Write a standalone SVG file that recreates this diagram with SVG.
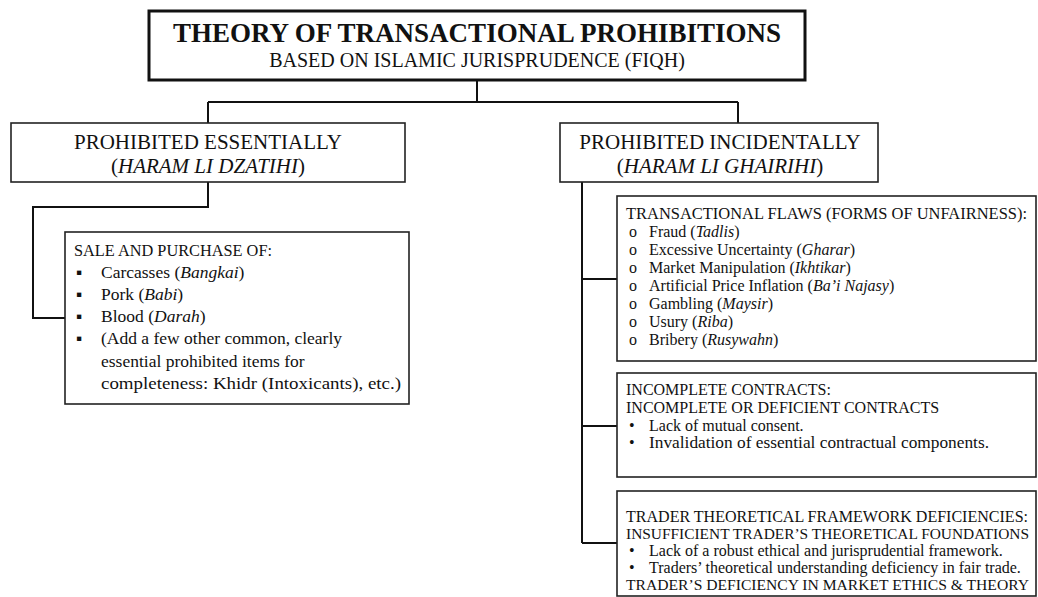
<svg xmlns="http://www.w3.org/2000/svg" width="1038" height="597" viewBox="0 0 1038 597" font-family="'Liberation Serif','Times New Roman',serif">
<style>
text{font-family:"Liberation Serif","Times New Roman",serif;fill:#111}
.box{fill:#fff;stroke:#222;stroke-width:1.6}
.conn{fill:none;stroke:#111;stroke-width:2}
.title{font-size:27px;font-weight:bold}
.sub{font-size:20px}
.h{font-size:21px}
.t{font-size:17.5px}
.s{font-size:16px}
.s2{font-size:15.4px}
.i{font-style:italic}
</style>
<g id="connectors">
<path class="conn" d="M477,80 V102 M208,102 H738 M208,102 V123 M738,102 V123"/>
<path class="conn" d="M208,182 V207 H33 V318 H65"/>
<path class="conn" d="M582,182 V543 M582,279 H617 M582,426 H617 M582,543 H617"/>
</g>
<g id="title">
<rect x="149" y="11" width="656" height="69" fill="#fff" stroke="#111" stroke-width="3"/>
<text class="title" x="477" y="42" text-anchor="middle">THEORY OF TRANSACTIONAL PROHIBITIONS</text>
<text class="sub" x="477" y="67" text-anchor="middle">BASED ON ISLAMIC JURISPRUDENCE (FIQH)</text>
</g>
<g id="essential">
<rect class="box" x="11" y="123" width="394" height="59"/>
<text class="h" x="208" y="149" text-anchor="middle">PROHIBITED ESSENTIALLY</text>
<text class="h" x="208" y="173" text-anchor="middle">(<tspan class="i">HARAM LI DZATIHI</tspan>)</text>
</g>
<g id="incidental">
<rect class="box" x="560" y="123" width="318" height="59"/>
<text class="h" x="720" y="149" text-anchor="middle">PROHIBITED INCIDENTALLY</text>
<text class="h" x="720" y="173" text-anchor="middle">(<tspan class="i">HARAM LI GHAIRIHI</tspan>)</text>
</g>
<g id="sale">
<rect class="box" x="65" y="232" width="344" height="172"/>
<text class="t" x="74" y="256" textLength="198" lengthAdjust="spacingAndGlyphs">SALE AND PURCHASE OF:</text>
<text class="t" x="76" y="278">▪</text><text class="t" x="101" y="278">Carcasses (<tspan class="i">Bangkai</tspan>)</text>
<text class="t" x="76" y="300">▪</text><text class="t" x="101" y="300">Pork (<tspan class="i">Babi</tspan>)</text>
<text class="t" x="76" y="322">▪</text><text class="t" x="101" y="322">Blood (<tspan class="i">Darah</tspan>)</text>
<text class="t" x="76" y="344">▪</text><text class="t" x="101" y="344">(Add a few other common, clearly</text>
<text class="t" x="101" y="367">essential prohibited items for</text>
<text class="t" x="101" y="389" textLength="300" lengthAdjust="spacingAndGlyphs">completeness: Khidr (Intoxicants), etc.)</text>
</g>
<g id="flaws">
<rect class="box" x="617" y="196" width="419" height="165"/>
<text class="s" x="626" y="219" textLength="401" lengthAdjust="spacingAndGlyphs">TRANSACTIONAL FLAWS (FORMS OF UNFAIRNESS):</text>
<text class="s" x="629" y="237">o</text><text class="s" x="649" y="237">Fraud (<tspan class="i">Tadlis</tspan>)</text>
<text class="s" x="629" y="255">o</text><text class="s" x="649" y="255">Excessive Uncertainty (<tspan class="i">Gharar</tspan>)</text>
<text class="s" x="629" y="273">o</text><text class="s" x="649" y="273">Market Manipulation (<tspan class="i">Ikhtikar</tspan>)</text>
<text class="s" x="629" y="291">o</text><text class="s" x="649" y="291">Artificial Price Inflation (<tspan class="i">Ba’i Najasy</tspan>)</text>
<text class="s" x="629" y="309">o</text><text class="s" x="649" y="309">Gambling (<tspan class="i">Maysir</tspan>)</text>
<text class="s" x="629" y="327">o</text><text class="s" x="649" y="327">Usury (<tspan class="i">Riba</tspan>)</text>
<text class="s" x="629" y="345">o</text><text class="s" x="649" y="345">Bribery (<tspan class="i">Rusywahn</tspan>)</text>
</g>
<g id="incomplete">
<rect class="box" x="617" y="373" width="419" height="104"/>
<text class="s" x="626" y="395">INCOMPLETE CONTRACTS:</text>
<text class="s" x="626" y="413">INCOMPLETE OR DEFICIENT CONTRACTS</text>
<text class="s" x="629" y="431">•</text><text class="s" x="649" y="431">Lack of mutual consent.</text>
<text class="s" x="629" y="448">•</text><text class="s" x="649" y="448" textLength="340" lengthAdjust="spacingAndGlyphs">Invalidation of essential contractual components.</text>
</g>
<g id="trader">
<rect class="box" x="617" y="491" width="419" height="105"/>
<text class="s" x="626" y="522" textLength="402" lengthAdjust="spacingAndGlyphs">TRADER THEORETICAL FRAMEWORK DEFICIENCIES:</text>
<text class="s2" x="626" y="539" textLength="403" lengthAdjust="spacingAndGlyphs">INSUFFICIENT TRADER’S THEORETICAL FOUNDATIONS</text>
<text class="s" x="629" y="556">•</text><text class="s" x="649" y="556">Lack of a robust ethical and jurisprudential framework.</text>
<text class="s" x="629" y="573">•</text><text class="s" x="649" y="573">Traders’ theoretical understanding deficiency in fair trade.</text>
<text class="s2" x="626" y="590" textLength="403" lengthAdjust="spacingAndGlyphs">TRADER’S DEFICIENCY IN MARKET ETHICS &amp; THEORY</text>
</g>
</svg>
